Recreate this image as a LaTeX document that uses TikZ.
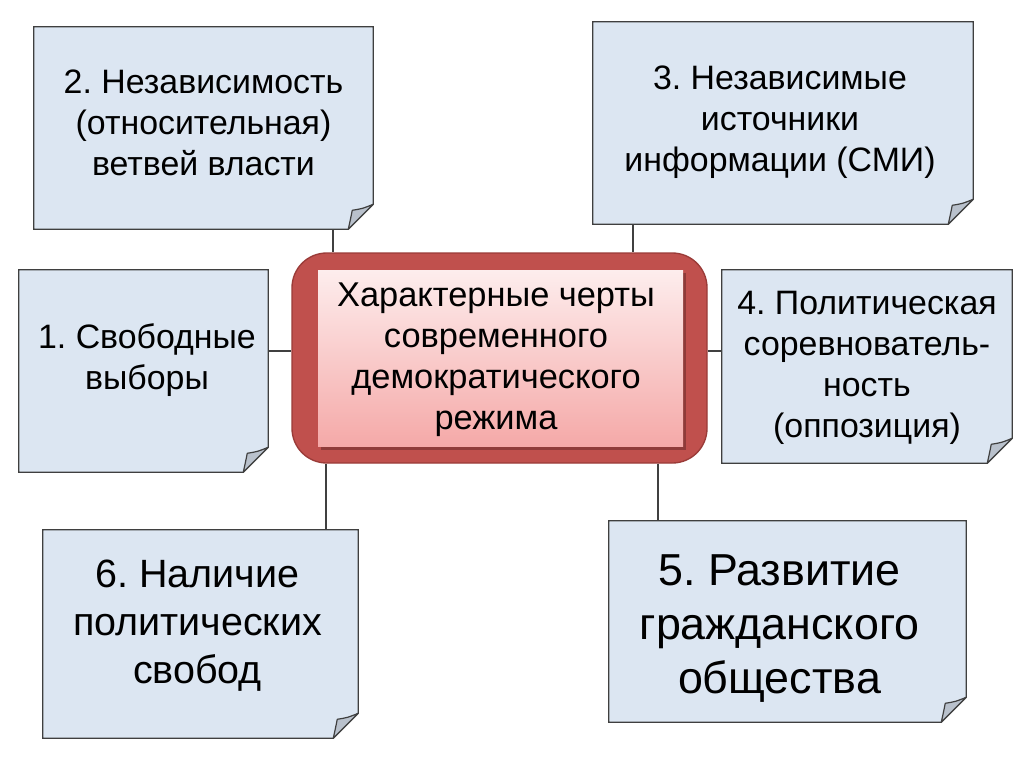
\documentclass[tikz,border=0pt]{standalone}
\usepackage{fontspec}
\setmainfont{Liberation Sans}
\usetikzlibrary{calc}
\frenchspacing
\definecolor{notefill}{HTML}{DCE6F2}
\definecolor{noteline}{HTML}{3F3F3F}
\definecolor{foldfill}{HTML}{B9C1CC}
\definecolor{outerred}{HTML}{C0504D}
\definecolor{outerline}{HTML}{9A3B38}
\definecolor{innertop}{HTML}{FDEDED}
\definecolor{innerbot}{HTML}{F5A9A8}
\definecolor{conn}{HTML}{404040}
\tikzset{
  notebox/.style={draw=none, inner sep=0pt, align=center},
  normaltext/.style={font=\fontsize{25.4}{30.75}\selectfont\frenchspacing},
  centertext/.style={font=\fontsize{25.8}{30.75}\selectfont\frenchspacing},
  bigtext/.style={font=\fontsize{33.6}{40.5}\selectfont\frenchspacing},
  midtext/.style={font=\fontsize{29.6}{36}\selectfont\frenchspacing},
  connector/.style={draw=conn, line width=1pt},
}
\newcommand{\drawnote}[1]{%
  \filldraw[fill=notefill, draw=noteline, line width=0.9pt]
    (#1.north west) -- (#1.north east) -- ([yshift=18.75pt]#1.south east)
    -- ([xshift=-18.75pt]#1.south east) -- (#1.south west) -- cycle;
  \filldraw[fill=foldfill, draw=noteline, line width=0.9pt, line join=round]
    ([xshift=-18.75pt]#1.south east) .. controls ([xshift=-17pt,yshift=8pt]#1.south east) .. ([xshift=-15.75pt,yshift=14.25pt]#1.south east)
    .. controls ([xshift=-8pt,yshift=15.5pt]#1.south east) .. ([yshift=18.75pt]#1.south east) -- cycle;
}
\begin{document}
\begin{tikzpicture}[x=0.75pt, y=-0.75pt]
\useasboundingbox (0,0) rectangle (1024,767);
\fill[white] (0,0) rectangle (1024,767);

% note nodes (placeholders for geometry)
\node[notebox, minimum width=254.25pt, minimum height=151.5pt] (b2) at (203.5,128) {};
\node[notebox, minimum width=285pt, minimum height=151.5pt] (b3) at (783,123) {};
\node[notebox, minimum width=186.75pt, minimum height=151.5pt] (b1) at (143.5,371) {};
\node[notebox, minimum width=217.5pt, minimum height=144.75pt] (b4) at (867,366.5) {};
\node[notebox, minimum width=236.25pt, minimum height=156pt] (b6) at (200.5,634) {};
\node[notebox, minimum width=267.75pt, minimum height=150.75pt] (b5) at (787.5,621.5) {};

\drawnote{b2}
\drawnote{b3}
\drawnote{b1}
\drawnote{b4}
\drawnote{b6}
\drawnote{b5}

% centre
\node[draw=outerline, fill=outerred, line width=1pt, rounded corners=26pt,
      minimum width=311.25pt, minimum height=157.5pt, inner sep=0pt] (c) at (499.5,358) {};
\fill[black, opacity=0.25] (320.5,273) rectangle (686,449.5);
\node[inner sep=0pt, minimum width=273.75pt, minimum height=132pt,
      top color=innertop, bottom color=innerbot, draw=none] (ci) at (500.5,358) {};

% texts
\node[normaltext, align=center] at (203.5,123) {2. Независимость\\(относительная)\\ветвей власти};
\node[normaltext, align=center] at (780,122) {3. Независимые\\источники\\информации (СМИ)};
\node[normaltext, align=center] at (147,360) {1. Свободные\\выборы};
\node[normaltext, align=center] at (867,368) {4. Политическая\\соревнователь-\\ность\\(оппозиция)};
\node[midtext, align=center] at (197.5,626) {6. Наличие\\политических\\свобод};
\node[bigtext, align=center] at (779.5,629) {5. Развитие\\гражданского\\общества};
\node[centertext, align=center] at (496,360) {Характерные черты\\современного\\демократического\\режима};

% connector x / y positions
\coordinate (k2) at (333,0);
\coordinate (k3) at (633,0);
\coordinate (k6) at (326,0);
\coordinate (k5) at (658,0);
\coordinate (k1) at (0,351);

\draw[connector] (b2.south -| k2) -- (c.north -| k2);
\draw[connector] (b3.south -| k3) -- (c.north -| k3);
\draw[connector] (c.south -| k6) -- (b6.north -| k6);
\draw[connector] (c.south -| k5) -- (b5.north -| k5);
\draw[connector] (b1.east |- k1) -- (c.west |- k1);
\draw[connector] (c.east |- k1) -- (b4.west |- k1);
\end{tikzpicture}
\end{document}
